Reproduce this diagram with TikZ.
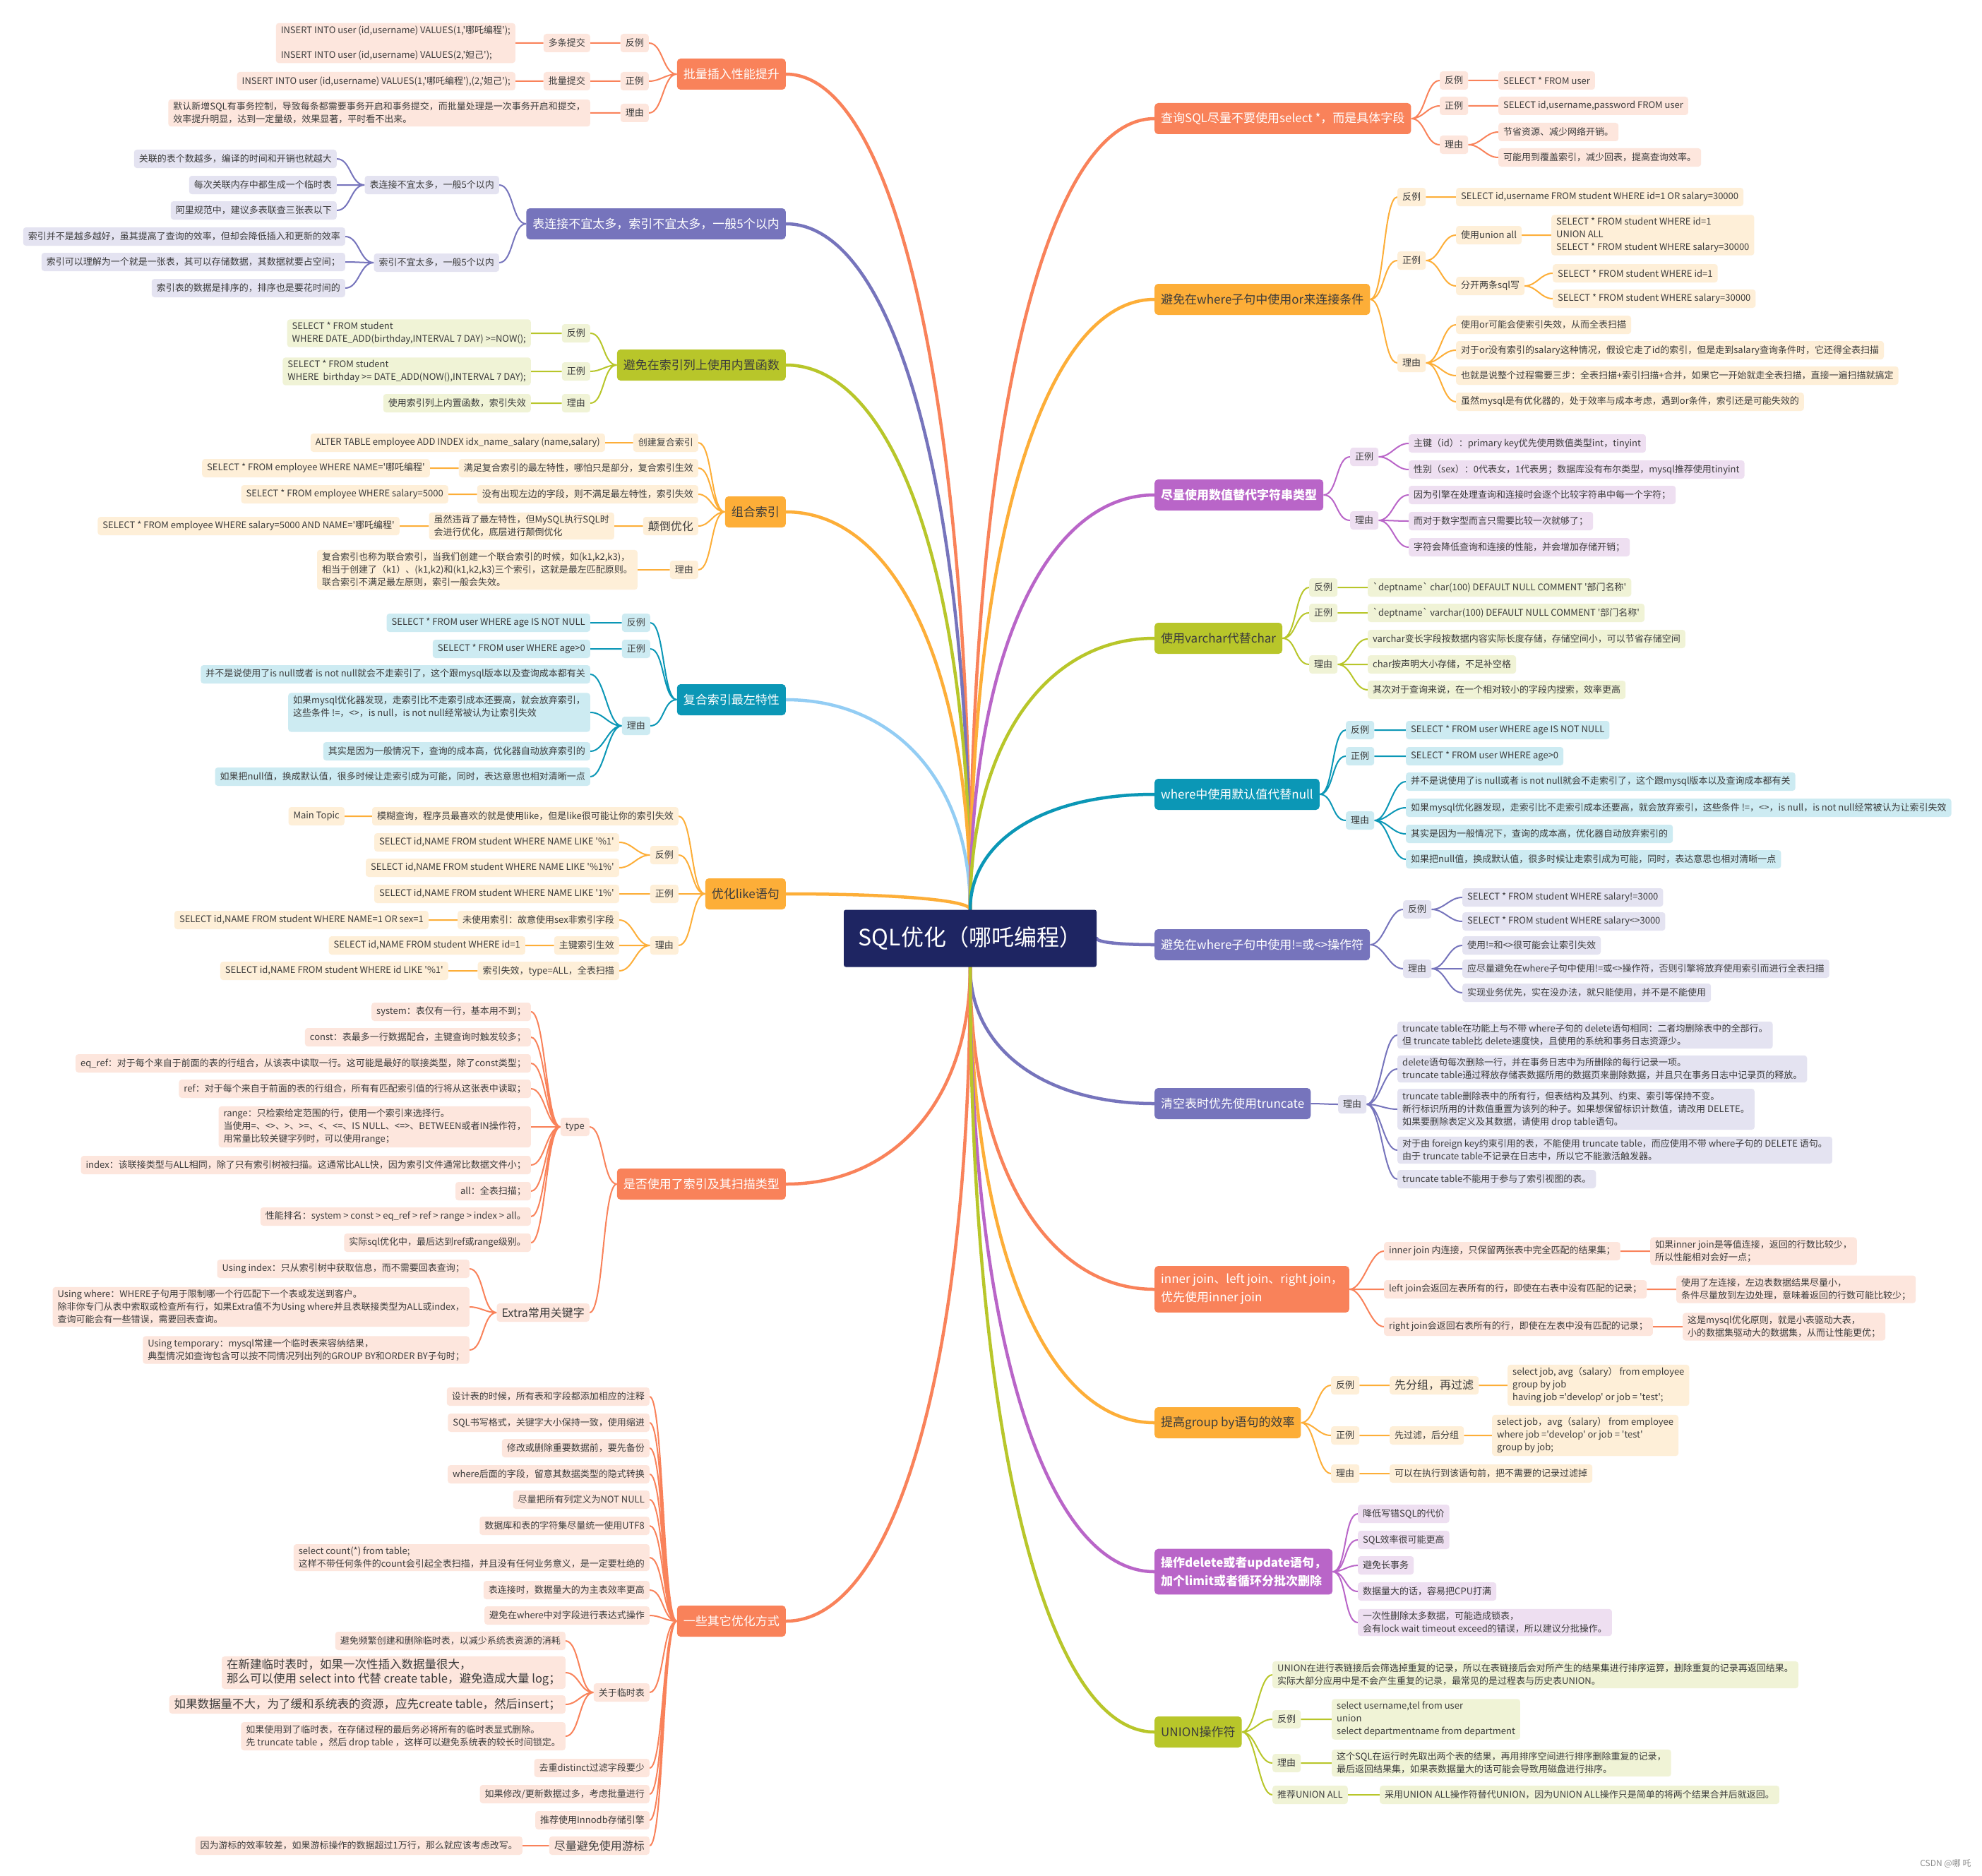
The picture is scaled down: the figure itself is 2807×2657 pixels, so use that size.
\documentclass[tikz,border=0pt]{standalone}
\usepackage{fontspec}
\newfontfamily\cnfont{Noto Sans CJK SC}
\usepackage{tikz}
\usetikzlibrary{calc}
\pgfdeclarelayer{background}
\pgfsetlayers{background,main}
\definecolor{Coral}{HTML}{F9825A}
\definecolor{CoralL}{HTML}{FDE6DD}
\definecolor{Iris}{HTML}{7674BC}
\definecolor{IrisL}{HTML}{E4E3F1}
\definecolor{Olive}{HTML}{B8C62A}
\definecolor{OliveL}{HTML}{F0F3D6}
\definecolor{Amber}{HTML}{FDAE38}
\definecolor{AmberL}{HTML}{FEEFD8}
\definecolor{Teal}{HTML}{0B97B6}
\definecolor{TealL}{HTML}{CDEBF2}
\definecolor{Orchid}{HTML}{B965C8}
\definecolor{OrchidL}{HTML}{EEDFF1}
\definecolor{Navy}{HTML}{1E2562}
\definecolor{Sky}{HTML}{93CDF4}
\definecolor{Ink}{HTML}{3C3C3C}
\newcommand{\LeafFont}{\cnfont\fontsize{13}{18}\selectfont}
\tikzset{Leaf/.style={
    inner xsep=7pt,
    inner ysep=4pt,
    minimum height=26pt,
    rounded corners=4pt,
    align=left,
    text=Ink,
    font=\LeafFont,
    }
}
\tikzset{Topic/.style={
    inner xsep=9pt,
    inner ysep=7pt,
    minimum height=44pt,
    rounded corners=5pt,
    align=left,
    font=\cnfont\fontsize{17}{26}\selectfont,
    }
}
\begin{document}
\begin{tikzpicture}[x=1pt, y=-1pt,
    Root/.style={fill=Navy, text=white, rounded corners=3pt,
        minimum width=358pt, minimum height=81pt,
        font=\cnfont\fontsize{32}{38}\selectfont},
    l/.style={Leaf, anchor=east},
    r/.style={Leaf, anchor=west},
    tl/.style={Topic, anchor=east},
    tr/.style={Topic, anchor=west},
    big/.style={font=\cnfont\fontsize{16}{21}\selectfont},
    bigger/.style={font=\cnfont\fontsize{16.5}{20}\selectfont},
    bold/.style={font=\cnfont\bfseries\fontsize{17}{26}\selectfont},
    coL/.style={fill=CoralL},
    irL/.style={fill=IrisL},
    olL/.style={fill=OliveL},
    amL/.style={fill=AmberL},
    teL/.style={fill=TealL},
    orL/.style={fill=OrchidL},
    eL/.style={line width=2pt, out=180, in=0, max distance=20pt},
    eR/.style={line width=2pt, out=0, in=180, max distance=20pt},
    trunk/.style={line width=4.5pt, line cap=round,
        to path={.. controls ($(\tikztostart)!0.6!(\tikztostart |- \tikztotarget)$)
            and ($(\tikztotarget)!0.6!(\tikztostart |- \tikztotarget)$) .. (\tikztotarget)}},
]
\useasboundingbox (0,0) rectangle (2807,2657);
\begin{pgfonlayer}{background}
\fill[white] (0,0) rectangle (2807,2657);
\end{pgfonlayer}

\node[Root] (root) at (1374,1329) {SQL优化（哪吒编程）};

% left
\node[tl, fill=Coral, text=white] (b1) at (1113,105) {批量插入性能提升};
\node[l, coL] (b1n) at (919,61) {反例};
\node[l, coL] (b1p) at (919,115) {正例};
\node[l, coL] (b1r) at (919,160) {理由};
\node[l, coL] (b1n1) at (836,61) {多条提交};
\node[l, coL] (b1n2) at (730,61) {INSERT INTO user (id,username) VALUES(1,'哪吒编程');\\[17pt]INSERT INTO user (id,username) VALUES(2,'妲己');};
\node[l, coL] (b1p1) at (836,115) {批量提交};
\node[l, coL] (b1p2) at (730,115) {INSERT INTO user (id,username) VALUES(1,'哪吒编程'),(2,'妲己');};
\node[l, coL] (b1r1) at (836,160) {默认新增SQL有事务控制，导致每条都需要事务开启和事务提交，而批量处理是一次事务开启和提交，\\效率提升明显，达到一定量级，效果显著，平时看不出来。};

\node[tl, fill=Iris, text=white] (b2) at (1113,317) {表连接不宜太多，索引不宜太多，一般5个以内};
\node[l, irL] (b2a) at (707,262) {表连接不宜太多，一般5个以内};
\node[l, irL] (b2b) at (707,372) {索引不宜太多，一般5个以内};
\node[l, irL] (b2a1) at (477,225) {关联的表个数越多，编译的时间和开销也就越大};
\node[l, irL] (b2a2) at (477,262) {每次关联内存中都生成一个临时表};
\node[l, irL] (b2a3) at (477,298) {阿里规范中，建议多表联查三张表以下};
\node[l, irL] (b2b1) at (489,335) {索引并不是越多越好，虽其提高了查询的效率，但却会降低插入和更新的效率};
\node[l, irL] (b2b2) at (489,371) {索引可以理解为一个就是一张表，其可以存储数据，其数据就要占空间；};
\node[l, irL] (b2b3) at (489,408) {索引表的数据是排序的，排序也是要花时间的};

\node[tl, fill=Olive, text=Ink] (b3) at (1113,517) {避免在索引列上使用内置函数};
\node[l, olL] (b3n) at (836,472) {反例};
\node[l, olL] (b3p) at (836,526) {正例};
\node[l, olL] (b3r) at (836,571) {理由};
\node[l, olL] (b3n1) at (752,472) {SELECT * FROM student\\WHERE DATE\_ADD(birthday,INTERVAL 7 DAY) >=NOW();};
\node[l, olL] (b3p1) at (752,526) {SELECT * FROM student\\WHERE \ birthday >= DATE\_ADD(NOW(),INTERVAL 7 DAY);};
\node[l, olL] (b3r1) at (752,571) {使用索引列上内置函数，索引失效};

\node[tl, fill=Amber, text=Ink] (b4) at (1113,725) {组合索引};
\node[l, amL] (b4a) at (989,627) {创建复合索引};
\node[l, amL] (b4a1) at (857,627) {ALTER TABLE employee ADD INDEX idx\_name\_salary (name,salary)};
\node[l, amL] (b4b) at (989,663) {满足复合索引的最左特性，哪怕只是部分，复合索引生效};
\node[l, amL] (b4b1) at (609,663) {SELECT * FROM employee WHERE NAME='哪吒编程'};
\node[l, amL] (b4c) at (989,700) {没有出现左边的字段，则不满足最左特性，索引失效};
\node[l, amL] (b4c1) at (635,700) {SELECT * FROM employee WHERE salary=5000};
\node[l, amL, big] (b4d) at (989,745) {颠倒优化};
\node[l, amL] (b4d1) at (870,745) {虽然违背了最左特性，但MySQL执行SQL时\\会进行优化，底层进行颠倒优化};
\node[l, amL] (b4d2) at (566,745) {SELECT * FROM employee WHERE salary=5000 AND NAME='哪吒编程'};
\node[l, amL] (b4e) at (989,807) {理由};
\node[l, amL] (b4e1) at (903,807) {复合索引也称为联合索引，当我们创建一个联合索引的时候，如(k1,k2,k3)，\\相当于创建了（k1）、(k1,k2)和(k1,k2,k3)三个索引，这就是最左匹配原则。\\联合索引不满足最左原则，索引一般会失效。};

\node[tl, fill=Teal, text=white] (b5) at (1113,991) {复合索引最左特性};
\node[l, teL] (b5n) at (921,882) {反例};
\node[l, teL] (b5n1) at (836,882) {SELECT * FROM user WHERE age IS NOT NULL};
\node[l, teL] (b5p) at (921,919) {正例};
\node[l, teL] (b5p1) at (836,919) {SELECT * FROM user WHERE age>0};
\node[l, teL] (b5r) at (921,1028) {理由};
\node[l, teL] (b5r1) at (836,955) {并不是说使用了is null或者 is not null就会不走索引了，这个跟mysql版本以及查询成本都有关};
\node[l, teL] (b5r2) at (836,1009) {如果mysql优化器发现，走索引比不走索引成本还要高，就会放弃索引，\\这些条件 !=，<>，is null，is not null经常被认为让索引失效\\\mbox{}};
\node[l, teL] (b5r3) at (836,1064) {其实是因为一般情况下，查询的成本高，优化器自动放弃索引的};
\node[l, teL] (b5r4) at (836,1100) {如果把null值，换成默认值，很多时候让走索引成为可能，同时，表达意思也相对清晰一点};

\node[tl, fill=Amber, text=Ink] (b6) at (1113,1266) {优化like语句};
\node[l, amL] (b6t) at (961,1156) {模糊查询，程序员最喜欢的就是使用like，但是like很可能让你的索引失效};
\node[l, amL] (b6t1) at (488,1156) {Main Topic};
\node[l, amL] (b6n) at (961,1211) {反例};
\node[l, amL] (b6n1) at (877,1193) {SELECT id,NAME FROM student WHERE NAME LIKE '\%1'};
\node[l, amL] (b6n2) at (877,1229) {SELECT id,NAME FROM student WHERE NAME LIKE '\%1\%'};
\node[l, amL] (b6p) at (961,1266) {正例};
\node[l, amL] (b6p1) at (877,1266) {SELECT id,NAME FROM student WHERE NAME LIKE '1\%'};
\node[l, amL] (b6r) at (961,1339) {理由};
\node[l, amL] (b6r1) at (877,1303) {未使用索引：故意使用sex非索引字段};
\node[l, amL] (b6r1a) at (607,1303) {SELECT id,NAME FROM student WHERE NAME=1 OR sex=1};
\node[l, amL] (b6r2) at (877,1339) {主键索引生效};
\node[l, amL] (b6r2a) at (744,1339) {SELECT id,NAME FROM student WHERE id=1};
\node[l, amL] (b6r3) at (877,1375) {索引失效，type=ALL，全表扫描};
\node[l, amL] (b6r3a) at (635,1375) {SELECT id,NAME FROM student WHERE id LIKE '\%1'};

\node[tl, fill=Coral, text=white] (b7) at (1113,1677) {是否使用了索引及其扫描类型};
\node[l, coL] (b7t) at (835,1596) {type};
\node[l, coL] (b7t1) at (752,1433) {system：表仅有一行，基本用不到；};
\node[l, coL] (b7t2) at (752,1469) {const：表最多一行数据配合，主键查询时触发较多；};
\node[l, coL] (b7t3) at (752,1506) {eq\_ref：对于每个来自于前面的表的行组合，从该表中读取一行。这可能是最好的联接类型，除了const类型；};
\node[l, coL] (b7t4) at (752,1542) {ref：对于每个来自于前面的表的行组合，所有有匹配索引值的行将从这张表中读取；};
\node[l, coL] (b7t5) at (752,1596) {range：只检索给定范围的行，使用一个索引来选择行。\\当使用=、<>、>、>=、<、<=、IS NULL、<=>、BETWEEN或者IN操作符，\\用常量比较关键字列时，可以使用range；};
\node[l, coL] (b7t6) at (752,1650) {index：该联接类型与ALL相同，除了只有索引树被扫描。这通常比ALL快，因为索引文件通常比数据文件小；};
\node[l, coL] (b7t7) at (752,1687) {all：全表扫描；};
\node[l, coL] (b7t8) at (752,1723) {性能排名：system > const > eq\_ref > ref > range > index > all。};
\node[l, coL] (b7t9) at (752,1760) {实际sql优化中，最后达到ref或range级别。};
\node[l, coL, big] (b7e) at (835,1859) {Extra常用关键字};
\node[l, coL] (b7e1) at (665,1797) {Using index：只从索引树中获取信息，而不需要回表查询；};
\node[l, coL] (b7e2) at (665,1851) {Using where：WHERE子句用于限制哪一个行匹配下一个表或发送到客户。\\除非你专门从表中索取或检查所有行，如果Extra值不为Using where并且表联接类型为ALL或index，\\查询可能会有一些错误，需要回表查询。};
\node[l, coL] (b7e3) at (665,1912) {Using temporary：mysql常建一个临时表来容纳结果，\\典型情况如查询包含可以按不同情况列出列的GROUP BY和ORDER BY子句时；};

\node[tl, fill=Coral, text=white] (b8) at (1113,2296) {一些其它优化方式};
\node[l, coL] (b8a) at (920,1978) {设计表的时候，所有表和字段都添加相应的注释};
\node[l, coL] (b8b) at (920,2015) {SQL书写格式，关键字大小保持一致，使用缩进};
\node[l, coL] (b8c) at (920,2051) {修改或删除重要数据前，要先备份};
\node[l, coL] (b8d) at (920,2088) {where后面的字段，留意其数据类型的隐式转换};
\node[l, coL] (b8e) at (920,2124) {尽量把所有列定义为NOT NULL};
\node[l, coL] (b8f) at (920,2161) {数据库和表的字符集尽量统一使用UTF8};
\node[l, coL] (b8g) at (920,2206) {select count(*) from table;\\这样不带任何条件的count会引起全表扫描，并且没有任何业务意义，是一定要杜绝的};
\node[l, coL] (b8h) at (920,2252) {表连接时，数据量大的为主表效率更高};
\node[l, coL] (b8i) at (920,2288) {避免在where中对字段进行表达式操作};
\node[l, coL] (b8j) at (920,2397) {关于临时表};
\node[l, coL] (b8j1) at (801,2324) {避免频繁创建和删除临时表，以减少系统表资源的消耗};
\node[l, coL, bigger] (b8j2) at (801,2369) {在新建临时表时，如果一次性插入数据量很大，\\那么可以使用 select into 代替 create table，避免造成大量 log；};
\node[l, coL, bigger] (b8j3) at (801,2414) {如果数据量不大，为了缓和系统表的资源，应先create table，然后insert；};
\node[l, coL] (b8j4) at (801,2459) {如果使用到了临时表，在存储过程的最后务必将所有的临时表显式删除。\\先 truncate table ，然后 drop table ，这样可以避免系统表的较长时间锁定。};
\node[l, coL] (b8k) at (920,2504) {去重distinct过滤字段要少};
\node[l, coL] (b8l) at (920,2541) {如果修改/更新数据过多，考虑批量进行};
\node[l, coL] (b8m) at (920,2578) {推荐使用Innodb存储引擎};
\node[l, coL, big] (b8n) at (920,2614) {尽量避免使用游标};
\node[l, coL] (b8n1) at (740,2614) {因为游标的效率较差，如果游标操作的数据超过1万行，那么就应该考虑改写。};

% right
\node[tr, fill=Coral, text=white] (a1) at (1635,168) {查询SQL尽量不要使用select *，而是具体字段};
\node[r, coL] (a1n) at (2039,114) {反例};
\node[r, coL] (a1n1) at (2122,114) {SELECT * FROM user};
\node[r, coL] (a1p) at (2039,150) {正例};
\node[r, coL] (a1p1) at (2122,150) {SELECT id,username,password FROM user};
\node[r, coL] (a1r) at (2039,205) {理由};
\node[r, coL] (a1r1) at (2122,187) {节省资源、减少网络开销。};
\node[r, coL] (a1r2) at (2122,223) {可能用到覆盖索引，减少回表，提高查询效率。};

\node[tr, fill=Amber, text=Ink] (a2) at (1635,424) {避免在where子句中使用or来连接条件};
\node[r, amL] (a2n) at (1979,279) {反例};
\node[r, amL] (a2n1) at (2062,279) {SELECT id,username FROM student WHERE id=1 OR salary=30000};
\node[r, amL] (a2p) at (1979,369) {正例};
\node[r, amL] (a2p1) at (2062,333) {使用union all};
\node[r, amL] (a2p1a) at (2197,333) {SELECT * FROM student WHERE id=1\\UNION ALL\\SELECT * FROM student WHERE salary=30000};
\node[r, amL] (a2p2) at (2062,405) {分开两条sql写};
\node[r, amL] (a2p2a) at (2199,387) {SELECT * FROM student WHERE id=1};
\node[r, amL] (a2p2b) at (2199,423) {SELECT * FROM student WHERE salary=30000};
\node[r, amL] (a2r) at (1979,514) {理由};
\node[r, amL] (a2r1) at (2062,460) {使用or可能会使索引失效，从而全表扫描};
\node[r, amL] (a2r2) at (2062,496) {对于or没有索引的salary这种情况，假设它走了id的索引，但是走到salary查询条件时，它还得全表扫描};
\node[r, amL] (a2r3) at (2062,532) {也就是说整个过程需要三步：全表扫描+索引扫描+合并，如果它一开始就走全表扫描，直接一遍扫描就搞定};
\node[r, amL] (a2r4) at (2062,569) {虽然mysql是有优化器的，处于效率与成本考虑，遇到or条件，索引还是可能失效的};

\node[tr, fill=Orchid, text=white, bold] (a3) at (1635,701) {尽量使用数值替代字符串类型};
\node[r, orL] (a3p) at (1912,647) {正例};
\node[r, orL] (a3p1) at (1995,628) {主键（id）：primary key优先使用数值类型int，tinyint};
\node[r, orL] (a3p2) at (1995,665) {性别（sex）：0代表女，1代表男；数据库没有布尔类型，mysql推荐使用tinyint};
\node[r, orL] (a3r) at (1912,737) {理由};
\node[r, orL] (a3r1) at (1995,701) {因为引擎在处理查询和连接时会逐个比较字符串中每一个字符；};
\node[r, orL] (a3r2) at (1995,738) {而对于数字型而言只需要比较一次就够了；};
\node[r, orL] (a3r3) at (1995,775) {字符会降低查询和连接的性能，并会增加存储开销；};

\node[tr, fill=Olive, text=Ink] (a4) at (1635,904) {使用varchar代替char};
\node[r, olL] (a4n) at (1854,832) {反例};
\node[r, olL] (a4n1) at (1937,832) {`deptname` char(100) DEFAULT NULL COMMENT '部门名称'};
\node[r, olL] (a4p) at (1854,868) {正例};
\node[r, olL] (a4p1) at (1937,868) {`deptname` varchar(100) DEFAULT NULL COMMENT '部门名称'};
\node[r, olL] (a4r) at (1854,941) {理由};
\node[r, olL] (a4r1) at (1937,905) {varchar变长字段按数据内容实际长度存储，存储空间小，可以节省存储空间};
\node[r, olL] (a4r2) at (1937,941) {char按声明大小存储，不足补空格};
\node[r, olL] (a4r3) at (1937,977) {其次对于查询来说，在一个相对较小的字段内搜索，效率更高};

\node[tr, fill=Teal, text=white] (a5) at (1635,1125) {where中使用默认值代替null};
\node[r, teL] (a5n) at (1906,1034) {反例};
\node[r, teL] (a5n1) at (1991,1034) {SELECT * FROM user WHERE age IS NOT NULL};
\node[r, teL] (a5p) at (1906,1071) {正例};
\node[r, teL] (a5p1) at (1991,1071) {SELECT * FROM user WHERE age>0};
\node[r, teL] (a5r) at (1906,1162) {理由};
\node[r, teL] (a5r1) at (1991,1107) {并不是说使用了is null或者 is not null就会不走索引了，这个跟mysql版本以及查询成本都有关};
\node[r, teL] (a5r2) at (1991,1144) {如果mysql优化器发现，走索引比不走索引成本还要高，就会放弃索引，这些条件 !=，<>，is null，is not null经常被认为让索引失效};
\node[r, teL] (a5r3) at (1991,1181) {其实是因为一般情况下，查询的成本高，优化器自动放弃索引的};
\node[r, teL] (a5r4) at (1991,1217) {如果把null值，换成默认值，很多时候让走索引成为可能，同时，表达意思也相对清晰一点};

\node[tr, fill=Iris, text=white] (a6) at (1635,1338) {避免在where子句中使用!=或<>操作符};
\node[r, irL] (a6n) at (1987,1288) {反例};
\node[r, irL] (a6n1) at (2071,1271) {SELECT * FROM student WHERE salary!=3000};
\node[r, irL] (a6n2) at (2071,1305) {SELECT * FROM student WHERE salary<>3000};
\node[r, irL] (a6r) at (1987,1372) {理由};
\node[r, irL] (a6r1) at (2071,1339) {使用!=和<>很可能会让索引失效};
\node[r, irL] (a6r2) at (2071,1372) {应尽量避免在where子句中使用!=或<>操作符，否则引擎将放弃使用索引而进行全表扫描};
\node[r, irL] (a6r3) at (2071,1406) {实现业务优先，实在没办法，就只能使用，并不是不能使用};

\node[tr, fill=Iris, text=white] (a7) at (1635,1563) {清空表时优先使用truncate};
\node[r, irL] (a7r) at (1895,1564) {理由};
\node[r, irL] (a7r1) at (1979,1466) {truncate table在功能上与不带 where子句的 delete语句相同：二者均删除表中的全部行。\\但 truncate table比 delete速度快，且使用的系统和事务日志资源少。};
\node[r, irL] (a7r2) at (1979,1514) {delete语句每次删除一行，并在事务日志中为所删除的每行记录一项。\\ truncate table通过释放存储表数据所用的数据页来删除数据，并且只在事务日志中记录页的释放。};
\node[r, irL] (a7r3) at (1979,1571) {truncate table删除表中的所有行，但表结构及其列、约束、索引等保持不变。\\新行标识所用的计数值重置为该列的种子。如果想保留标识计数值，请改用 DELETE。\\如果要删除表定义及其数据，请使用 drop table语句。};
\node[r, irL] (a7r4) at (1979,1629) {对于由 foreign key约束引用的表，不能使用 truncate table，而应使用不带 where子句的 DELETE 语句。\\由于 truncate table不记录在日志中，所以它不能激活触发器。};
\node[r, irL] (a7r5) at (1979,1670) {truncate table不能用于参与了索引视图的表。};

\node[tr, fill=Coral, text=white, inner ysep=11pt] (a8) at (1635,1826) {inner join、left join、right join，\\优先使用inner join};
\node[r, coL] (a8a) at (1960,1772) {inner join 内连接，只保留两张表中完全匹配的结果集；};
\node[r, coL] (a8a1) at (2337,1772) {如果inner join是等值连接，返回的行数比较少，\\所以性能相对会好一点；};
\node[r, coL] (a8b) at (1960,1826) {left join会返回左表所有的行，即使在右表中没有匹配的记录；};
\node[r, coL] (a8b1) at (2374,1826) {使用了左连接，左边表数据结果尽量小，\\条件尽量放到左边处理，意味着返回的行数可能比较少；};
\node[r, coL] (a8c) at (1960,1879) {right join会返回右表所有的行，即使在左表中没有匹配的记录；};
\node[r, coL] (a8c1) at (2383,1879) {这是mysql优化原则，就是小表驱动大表，\\小的数据集驱动大的数据集，从而让性能更优；};

\node[tr, fill=Amber, text=Ink] (a9) at (1635,2015) {提高group by语句的效率};
\node[r, amL] (a9n) at (1885,1962) {反例};
\node[r, amL, big] (a9n1) at (1968,1962) {先分组，再过滤};
\node[r, amL] (a9n2) at (2135,1962) {select job, avg（salary） from employee\\group by job\\having job ='develop' or job = 'test';};
\node[r, amL] (a9p) at (1885,2033) {正例};
\node[r, amL] (a9p1) at (1968,2033) {先过滤，后分组};
\node[r, amL] (a9p2) at (2113,2033) {select job，avg（salary） from employee\\where job ='develop' or job = 'test'\\group by job;};
\node[r, amL] (a9r) at (1885,2087) {理由};
\node[r, amL] (a9r1) at (1968,2087) {可以在执行到该语句前，把不需要的记录过滤掉};

\node[tr, fill=Orchid, text=white, bold, inner ysep=11pt] (a10) at (1635,2226) {操作delete或者update语句，\\加个limit或者循环分批次删除};
\node[r, orL] (a10a) at (1923,2144) {降低写错SQL的代价};
\node[r, orL] (a10b) at (1923,2181) {SQL效率很可能更高};
\node[r, orL] (a10c) at (1923,2217) {避免长事务};
\node[r, orL] (a10d) at (1923,2254) {数据量大的话，容易把CPU打满};
\node[r, orL] (a10e) at (1923,2298) {一次性删除太多数据，可能造成锁表，\\会有lock wait timeout exceed的错误，所以建议分批操作。};

\node[tr, fill=Olive, text=Ink] (a11) at (1635,2453) {UNION操作符};
\node[r, olL] (a11a) at (1802,2372) {UNION在进行表链接后会筛选掉重复的记录，所以在表链接后会对所产生的结果集进行排序运算，删除重复的记录再返回结果。\\实际大部分应用中是不会产生重复的记录，最常见的是过程表与历史表UNION。};
\node[r, olL] (a11n) at (1802,2435) {反例};
\node[r, olL] (a11n1) at (1886,2435) {select username,tel from user\\union\\select departmentname from department};
\node[r, olL] (a11r) at (1802,2497) {理由};
\node[r, olL] (a11r1) at (1886,2497) {这个SQL在运行时先取出两个表的结果，再用排序空间进行排序删除重复的记录，\\最后返回结果集，如果表数据量大的话可能会导致用磁盘进行排序。};
\node[r, olL] (a11u) at (1802,2542) {推荐UNION ALL};
\node[r, olL] (a11u1) at (1954,2542) {采用UNION ALL操作符替代UNION，因为UNION ALL操作只是简单的将两个结果合并后就返回。};

\node[anchor=east, text=black!45, font=\cnfont\fontsize{12}{14}\selectfont] (mark) at (2795,2640) {CSDN @哪 吒};

% links
\begin{pgfonlayer}{background}
\draw[trunk, Coral] (root.north) to (b1.east);
\draw[trunk, Iris] (root.north) to (b2.east);
\draw[trunk, Olive] (root.north) to (b3.east);
\draw[trunk, Amber] (root.north) to (b4.east);
\draw[trunk, Sky] (root.north) to (b5.east);
\draw[trunk, Amber] (root.north) to (b6.east);
\draw[trunk, Coral] (root.south) to (b7.east);
\draw[trunk, Coral] (root.south) to (b8.east);
\draw[trunk, Coral] (root.north) to (a1.west);
\draw[trunk, Amber] (root.north) to (a2.west);
\draw[trunk, Orchid] (root.north) to (a3.west);
\draw[trunk, Olive] (root.north) to (a4.west);
\draw[trunk, Teal] (root.north) to (a5.west);
\draw[trunk, Iris] (root.east) to (a6.west);
\draw[trunk, Iris] (root.south) to (a7.west);
\draw[trunk, Coral] (root.south) to (a8.west);
\draw[trunk, Amber] (root.south) to (a9.west);
\draw[trunk, Orchid] (root.south) to (a10.west);
\draw[trunk, Olive] (root.south) to (a11.west);

\draw[eL, Coral] (b1.west) to (b1n.east) (b1.west) to (b1p.east) (b1.west) to (b1r.east)
    (b1n.west) to (b1n1.east) (b1n1.west) to (b1n2.east)
    (b1p.west) to (b1p1.east) (b1p1.west) to (b1p2.east)
    (b1r.west) to (b1r1.east);
\draw[eL, Iris] (b2.west) to (b2a.east) (b2.west) to (b2b.east)
    (b2a.west) to (b2a1.east) (b2a.west) to (b2a2.east) (b2a.west) to (b2a3.east)
    (b2b.west) to (b2b1.east) (b2b.west) to (b2b2.east) (b2b.west) to (b2b3.east);
\draw[eL, Olive] (b3.west) to (b3n.east) (b3.west) to (b3p.east) (b3.west) to (b3r.east)
    (b3n.west) to (b3n1.east) (b3p.west) to (b3p1.east) (b3r.west) to (b3r1.east);
\draw[eL, Amber] (b4.west) to (b4a.east) (b4.west) to (b4b.east) (b4.west) to (b4c.east)
    (b4.west) to (b4d.east) (b4.west) to (b4e.east)
    (b4a.west) to (b4a1.east) (b4b.west) to (b4b1.east) (b4c.west) to (b4c1.east)
    (b4d.west) to (b4d1.east) (b4d1.west) to (b4d2.east) (b4e.west) to (b4e1.east);
\draw[eL, Teal] (b5.west) to (b5n.east) (b5.west) to (b5p.east) (b5.west) to (b5r.east)
    (b5n.west) to (b5n1.east) (b5p.west) to (b5p1.east)
    (b5r.west) to (b5r1.east) (b5r.west) to (b5r2.east) (b5r.west) to (b5r3.east) (b5r.west) to (b5r4.east);
\draw[eL, Amber] (b6.west) to (b6t.east) (b6.west) to (b6n.east) (b6.west) to (b6p.east) (b6.west) to (b6r.east)
    (b6t.west) to (b6t1.east)
    (b6n.west) to (b6n1.east) (b6n.west) to (b6n2.east) (b6p.west) to (b6p1.east)
    (b6r.west) to (b6r1.east) (b6r.west) to (b6r2.east) (b6r.west) to (b6r3.east)
    (b6r1.west) to (b6r1a.east) (b6r2.west) to (b6r2a.east) (b6r3.west) to (b6r3a.east);
\draw[eL, Coral] (b7.west) to (b7t.east) (b7.west) to (b7e.east)
    (b7t.west) to (b7t1.east) (b7t.west) to (b7t2.east) (b7t.west) to (b7t3.east)
    (b7t.west) to (b7t4.east) (b7t.west) to (b7t5.east) (b7t.west) to (b7t6.east)
    (b7t.west) to (b7t7.east) (b7t.west) to (b7t8.east) (b7t.west) to (b7t9.east)
    (b7e.west) to (b7e1.east) (b7e.west) to (b7e2.east) (b7e.west) to (b7e3.east);
\draw[eL, Coral] (b8.west) to (b8a.east) (b8.west) to (b8b.east) (b8.west) to (b8c.east)
    (b8.west) to (b8d.east) (b8.west) to (b8e.east) (b8.west) to (b8f.east)
    (b8.west) to (b8g.east) (b8.west) to (b8h.east) (b8.west) to (b8i.east)
    (b8.west) to (b8j.east) (b8.west) to (b8k.east) (b8.west) to (b8l.east)
    (b8.west) to (b8m.east) (b8.west) to (b8n.east)
    (b8j.west) to (b8j1.east) (b8j.west) to (b8j2.east) (b8j.west) to (b8j3.east) (b8j.west) to (b8j4.east)
    (b8n.west) to (b8n1.east);

\draw[eR, Coral] (a1.east) to (a1n.west) (a1.east) to (a1p.west) (a1.east) to (a1r.west)
    (a1n.east) to (a1n1.west) (a1p.east) to (a1p1.west)
    (a1r.east) to (a1r1.west) (a1r.east) to (a1r2.west);
\draw[eR, Amber] (a2.east) to (a2n.west) (a2.east) to (a2p.west) (a2.east) to (a2r.west)
    (a2n.east) to (a2n1.west)
    (a2p.east) to (a2p1.west) (a2p.east) to (a2p2.west) (a2p1.east) to (a2p1a.west)
    (a2p2.east) to (a2p2a.west) (a2p2.east) to (a2p2b.west)
    (a2r.east) to (a2r1.west) (a2r.east) to (a2r2.west) (a2r.east) to (a2r3.west) (a2r.east) to (a2r4.west);
\draw[eR, Orchid] (a3.east) to (a3p.west) (a3.east) to (a3r.west)
    (a3p.east) to (a3p1.west) (a3p.east) to (a3p2.west)
    (a3r.east) to (a3r1.west) (a3r.east) to (a3r2.west) (a3r.east) to (a3r3.west);
\draw[eR, Olive] (a4.east) to (a4n.west) (a4.east) to (a4p.west) (a4.east) to (a4r.west)
    (a4n.east) to (a4n1.west) (a4p.east) to (a4p1.west)
    (a4r.east) to (a4r1.west) (a4r.east) to (a4r2.west) (a4r.east) to (a4r3.west);
\draw[eR, Teal] (a5.east) to (a5n.west) (a5.east) to (a5p.west) (a5.east) to (a5r.west)
    (a5n.east) to (a5n1.west) (a5p.east) to (a5p1.west)
    (a5r.east) to (a5r1.west) (a5r.east) to (a5r2.west) (a5r.east) to (a5r3.west) (a5r.east) to (a5r4.west);
\draw[eR, Iris] (a6.east) to (a6n.west) (a6.east) to (a6r.west)
    (a6n.east) to (a6n1.west) (a6n.east) to (a6n2.west)
    (a6r.east) to (a6r1.west) (a6r.east) to (a6r2.west) (a6r.east) to (a6r3.west);
\draw[eR, Iris] (a7.east) to (a7r.west)
    (a7r.east) to (a7r1.west) (a7r.east) to (a7r2.west) (a7r.east) to (a7r3.west)
    (a7r.east) to (a7r4.west) (a7r.east) to (a7r5.west);
\draw[eR, Coral] (a8.east) to (a8a.west) (a8.east) to (a8b.west) (a8.east) to (a8c.west)
    (a8a.east) to (a8a1.west) (a8b.east) to (a8b1.west) (a8c.east) to (a8c1.west);
\draw[eR, Amber] (a9.east) to (a9n.west) (a9.east) to (a9p.west) (a9.east) to (a9r.west)
    (a9n.east) to (a9n1.west) (a9n1.east) to (a9n2.west)
    (a9p.east) to (a9p1.west) (a9p1.east) to (a9p2.west)
    (a9r.east) to (a9r1.west);
\draw[eR, Orchid] (a10.east) to (a10a.west) (a10.east) to (a10b.west) (a10.east) to (a10c.west)
    (a10.east) to (a10d.west) (a10.east) to (a10e.west);
\draw[eR, Olive] (a11.east) to (a11a.west) (a11.east) to (a11n.west) (a11.east) to (a11r.west) (a11.east) to (a11u.west)
    (a11n.east) to (a11n1.west) (a11r.east) to (a11r1.west) (a11u.east) to (a11u1.west);
\end{pgfonlayer}
\end{tikzpicture}
\end{document}
